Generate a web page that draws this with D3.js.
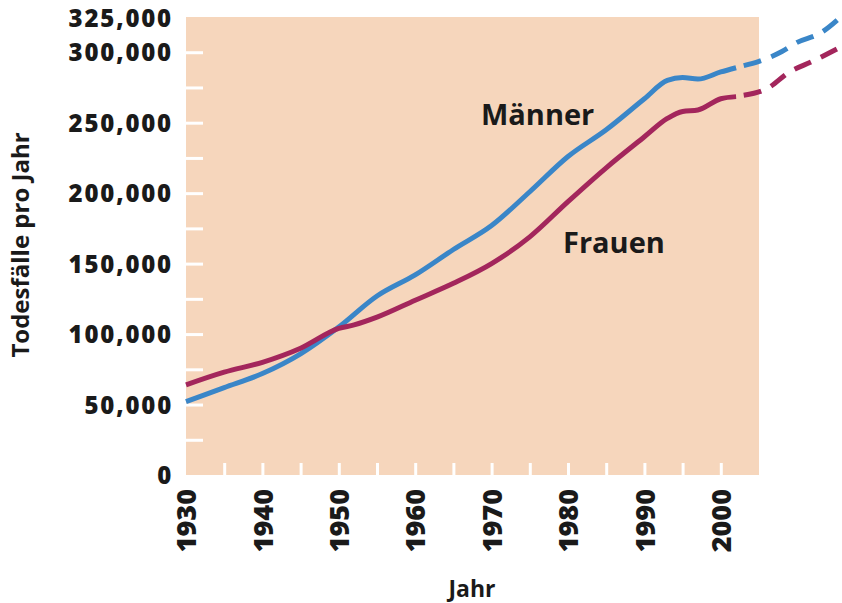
<!DOCTYPE html>
<html>
<head>
<meta charset="utf-8">
<script src="https://cdn.jsdelivr.net/npm/d3@7"></script>
<style>
  body { margin: 0; background: #fff; }
  text { font-family: "Open Sans", "Noto Sans", sans-serif; font-weight: 700; fill: #1a1a1a; }
</style>
</head>
<body>
<svg id="chart" width="842" height="603"></svg>
<script>
const years_m = [1930, 1935, 1940, 1945, 1950, 1955, 1960, 1965, 1970, 1975, 1980, 1985, 1990, 1993, 1995, 1997, 2000, 2002];
const maenner = [52000, 62000, 72000, 86000, 105000, 127000, 142000, 160000, 177000, 201000, 226000, 245000, 267000, 280000, 282000, 281000, 286000, 289000];
const years_f = [1930, 1935, 1940, 1945, 1950, 1952, 1955, 1960, 1965, 1970, 1975, 1980, 1985, 1990, 1993, 1995, 1997, 2000, 2002];
const frauen = [64000, 73000, 80000, 90000, 104000, 106500, 112000, 124000, 136000, 150000, 169000, 194000, 218000, 240000, 253000, 258000, 259000, 267000, 268500];

// Prognose (gestrichelt)
const years_pm = [2003, 2005, 2008, 2010, 2013, 2016];
const maenner_p = [290500, 293500, 300500, 307000, 313500, 326500];
const years_pf = [2003, 2006, 2009, 2012, 2016];
const frauen_p = [269500, 274000, 286000, 293500, 304500];

const yLabels = [0, 50000, 100000, 150000, 200000, 250000, 300000, 325000];
const yTicks = d3.range(0, 325001, 25000);
const xLabels = d3.range(1930, 2001, 10);
const xTicks = d3.range(1935, 2005, 5);

const svg = d3.select('#chart');
const x = d3.scaleLinear().domain([1930, 2005]).range([186, 759]);
const y = d3.scaleLinear().domain([0, 325000]).range([475, 17]);

svg.append('rect')
    .attr('x', x(1930)).attr('y', y(325000))
    .attr('width', x(2005) - x(1930)).attr('height', y(0) - y(325000))
    .attr('fill', '#f6d6bc');

// white inner ticks
const yTickG = svg.append('g')
    .attr('transform', `translate(${x(1930)},0)`)
    .call(d3.axisLeft(y).tickValues(yTicks.filter(d => d > 0 && d < 325000)).tickSize(-17).tickFormat(''));
yTickG.select('.domain').remove();
yTickG.selectAll('line').attr('stroke', '#fff').attr('stroke-width', 3);

const xTickG = svg.append('g')
    .attr('transform', `translate(0,${y(0)})`)
    .call(d3.axisBottom(x).tickValues(xTicks).tickSize(-12).tickFormat(''));
xTickG.select('.domain').remove();
xTickG.selectAll('line').attr('stroke', '#fff').attr('stroke-width', 3);

// tick labels
const yLab = svg.append('g')
    .attr('transform', `translate(173,0)`)
    .call(d3.axisLeft(y).tickValues(yLabels).tickSize(0).tickFormat(d3.format(',')));
yLab.select('.domain').remove();
yLab.selectAll('text')
    .attr('x', 0)
    .attr('y', d => d === 325000 ? 1 : 0)
    .attr('dy', '0.36em')
    .style('font-size', '24px')
    .style('letter-spacing', '1.8px')
    .style('font-weight', 800)
    .attr('fill', '#1a1a1a');

const xLab = svg.append('g')
    .attr('transform', `translate(0,489)`)
    .call(d3.axisBottom(x).tickValues(xLabels).tickSize(0).tickFormat(d3.format('d')));
xLab.select('.domain').remove();
xLab.selectAll('text')
    .attr('transform', 'rotate(-90)')
    .attr('x', 0).attr('y', 0)
    .attr('dy', '0.36em')
    .attr('text-anchor', 'end')
    .style('font-size', '27px')
    .style('font-weight', 800)
    .attr('fill', '#1a1a1a');

// lines
const line = d3.line()
    .x(d => x(d[0]))
    .y(d => y(d[1]))
    .curve(d3.curveMonotoneX);

const series = [
    {years: years_m, vals: maenner, color: '#3a86c8', dash: null},
    {years: years_f, vals: frauen, color: '#a3265c', dash: null},
    {years: years_pm, vals: maenner_p, color: '#3a86c8', dash: '18,11'},
    {years: years_pf, vals: frauen_p, color: '#a3265c', dash: '18,11'}
];

svg.selectAll('path.series').data(series)
    .enter().append('path')
        .attr('class', 'series')
        .attr('d', s => line(s.years.map((yr, i) => [yr, s.vals[i]])))
        .attr('fill', 'none')
        .attr('stroke', s => s.color)
        .attr('stroke-width', 5)
        .attr('stroke-dasharray', s => s.dash)
        .attr('stroke-linecap', 'butt');

// labels
svg.append('text').attr('x', 481).attr('y', 125)
    .style('font-size', '29px').text('Männer');
svg.append('text').attr('x', 563).attr('y', 253)
    .style('font-size', '29px').text('Frauen');

svg.append('text')
    .attr('x', 472).attr('y', 597)
    .attr('text-anchor', 'middle')
    .style('font-size', '23px')
    .text('Jahr');

svg.append('text')
    .attr('transform', 'translate(29,245) rotate(-90)')
    .attr('text-anchor', 'middle')
    .style('font-size', '24px')
    .text('Todesfälle pro Jahr');
</script>
</body>
</html>
